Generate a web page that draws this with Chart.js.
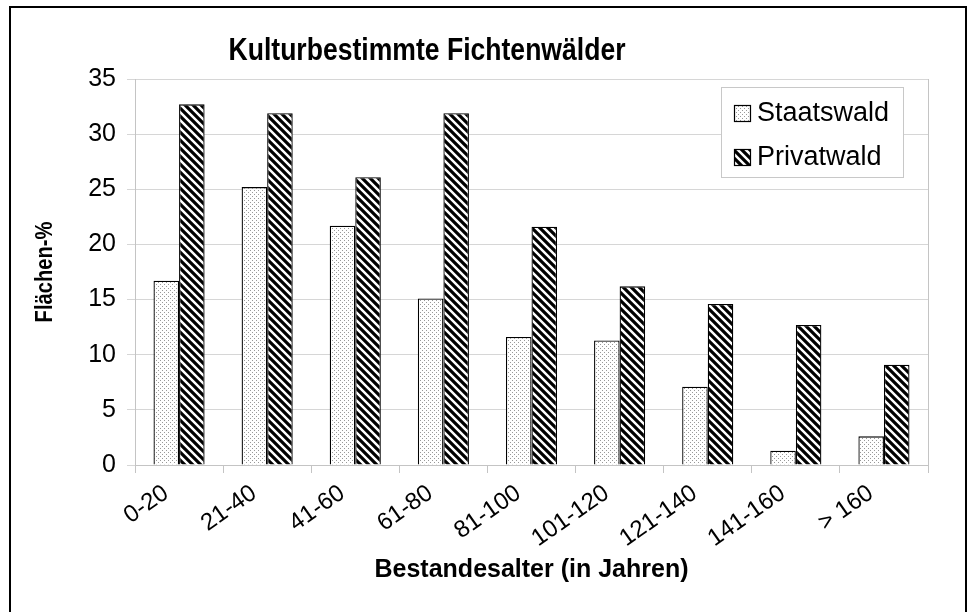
<!DOCTYPE html>
<html>
<head>
<meta charset="utf-8">
<script src="https://cdn.jsdelivr.net/npm/chart.js@4.4.1/dist/chart.umd.min.js"></script>
<style>
html, body { margin: 0; padding: 0; background: #fff; }
#wrap { width: 972px; height: 612px; }
</style>
</head>
<body>
<div id="wrap"><canvas id="myChart" width="972" height="612"></canvas></div>
<script>
// data
const categories = ['0-20', '21-40', '41-60', '61-80', '81-100', '101-120', '121-140', '141-160', '> 160'];
const staatswald = [16.7, 25.2, 21.7, 15.1, 11.6, 11.3, 7.1, 1.3, 2.6];
const privatwald = [32.7, 31.9, 26.1, 31.9, 21.6, 16.2, 14.6, 12.7, 9.1];
const seriesNames = ['Staatswald', 'Privatwald'];
const yMin = 0, yMax = 35, yStep = 5;

const FONT = '"Liberation Sans", Arial, sans-serif';
const canvas = document.getElementById('myChart');
const ctx = canvas.getContext('2d');

function dotPattern() {
    const c = document.createElement('canvas');
    c.width = 4; c.height = 4;
    const g = c.getContext('2d');
    g.fillStyle = '#fff';
    g.fillRect(0, 0, 4, 4);
    g.fillStyle = '#999';
    g.fillRect(0, 0, 1, 1);
    g.fillRect(2, 2, 1, 1);
    return ctx.createPattern(c, 'repeat');
}

function stripePattern() {
    const c = document.createElement('canvas');
    c.width = 8; c.height = 8;
    const g = c.getContext('2d');
    g.fillStyle = '#fff';
    g.fillRect(0, 0, 8, 8);
    g.strokeStyle = '#000';
    g.lineWidth = 3.2;
    g.beginPath();
    g.moveTo(-2, -2); g.lineTo(10, 10);
    g.moveTo(-2, 6); g.lineTo(2, 10);
    g.moveTo(6, -2); g.lineTo(10, 2);
    g.stroke();
    return ctx.createPattern(c, 'repeat');
}

const fills = [dotPattern(), stripePattern()];

// condensed bold text, the original fonts are narrower than Liberation Sans
function condensedText(c, text, x, y, size, squeeze, angle) {
    c.save();
    c.translate(x, y);
    c.rotate(angle);
    c.scale(squeeze, 1);
    c.fillStyle = '#000';
    c.font = 'bold ' + size + 'px ' + FONT;
    c.textAlign = 'center';
    c.textBaseline = 'middle';
    c.fillText(text, 0, 0);
    c.restore();
}

// title, y title, legend box, plot border and outer frame
const decorations = {
    id: 'decorations',
    beforeDatasetsDraw(chart) {
        const a = chart.chartArea;
        const c = chart.ctx;
        c.save();
        c.strokeStyle = '#c4c4c4';
        c.lineWidth = 1;
        c.beginPath();
        c.moveTo(Math.round(a.right) + 0.5, a.top);
        c.lineTo(Math.round(a.right) + 0.5, a.bottom);
        c.stroke();
        c.restore();
    },
    afterDraw(chart) {
        const c = chart.ctx;
        const a = chart.chartArea;
        condensedText(c, 'Kulturbestimmte Fichtenwälder', 427, 51, 32, 0.83, 0);
        condensedText(c, 'Flächen-%', 45, (a.top + a.bottom) / 2, 24, 0.84, -Math.PI / 2);

        c.save();
        // legend
        const lx = 721, ly = 87, lw = 182, lh = 90;
        c.fillStyle = '#fff';
        c.fillRect(lx, ly, lw, lh);
        c.strokeStyle = '#c8c8c8';
        c.lineWidth = 1;
        c.strokeRect(lx + 0.5, ly + 0.5, lw, lh);
        c.font = '27px ' + FONT;
        c.textBaseline = 'middle';
        chart.data.datasets.forEach((ds, i) => {
            const cy = 113 + i * 44;
            c.fillStyle = ds.backgroundColor;
            c.fillRect(734, cy - 8, 17, 17);
            c.strokeStyle = '#000';
            c.lineWidth = 1.2;
            c.strokeRect(734.5, cy - 7.5, 16, 16);
            c.fillStyle = '#000';
            c.fillText(ds.label, 757, cy + 1);
        });

        // outer frame
        c.strokeStyle = '#000';
        c.lineWidth = 2;
        c.strokeRect(10, 7, 956, 640);
        c.restore();
    }
};

new Chart(canvas, {
    type: 'bar',
    data: {
        labels: categories,
        datasets: [
            {
                label: seriesNames[0],
                data: staatswald,
                backgroundColor: fills[0],
                borderColor: '#000',
                borderWidth: 1.3
            },
            {
                label: seriesNames[1],
                data: privatwald,
                backgroundColor: fills[1],
                borderColor: '#000',
                borderWidth: 1.3
            }
        ]
    },
    options: {
        responsive: false,
        animation: false,
        layout: {
            padding: { left: 0, top: 79, right: 44, bottom: 0 }
        },
        datasets: {
            bar: {
                categoryPercentage: 0.58,
                barPercentage: 1.0
            }
        },
        plugins: {
            legend: { display: false },
            tooltip: { enabled: false },
            title: { display: false }
        },
        scales: {
            x: {
                afterFit(scale) { scale.height = 147; },
                grid: {
                    display: true,
                    drawOnChartArea: false,
                    offset: true,
                    tickLength: 8,
                    color: '#c4c4c4'
                },
                border: { display: true, color: '#c4c4c4' },
                ticks: {
                    color: '#000',
                    font: { family: FONT, size: 24 },
                    minRotation: 35,
                    maxRotation: 35,
                    labelOffset: -13,
                    padding: 6
                },
                title: {
                    display: true,
                    text: 'Bestandesalter (in Jahren)',
                    color: '#000',
                    font: { family: FONT, size: 25, weight: 'bold' },
                    padding: { top: 0, bottom: 27 }
                }
            },
            y: {
                min: yMin,
                max: yMax,
                afterFit(scale) { scale.width = 135; },
                grid: {
                    color: '#d6d6d6',
                    tickLength: 8
                },
                border: { display: true, color: '#c4c4c4' },
                ticks: {
                    stepSize: yStep,
                    color: '#000',
                    font: { family: FONT, size: 25 },
                    padding: 11
                }
            }
        }
    },
    plugins: [decorations]
});
</script>
</body>
</html>
